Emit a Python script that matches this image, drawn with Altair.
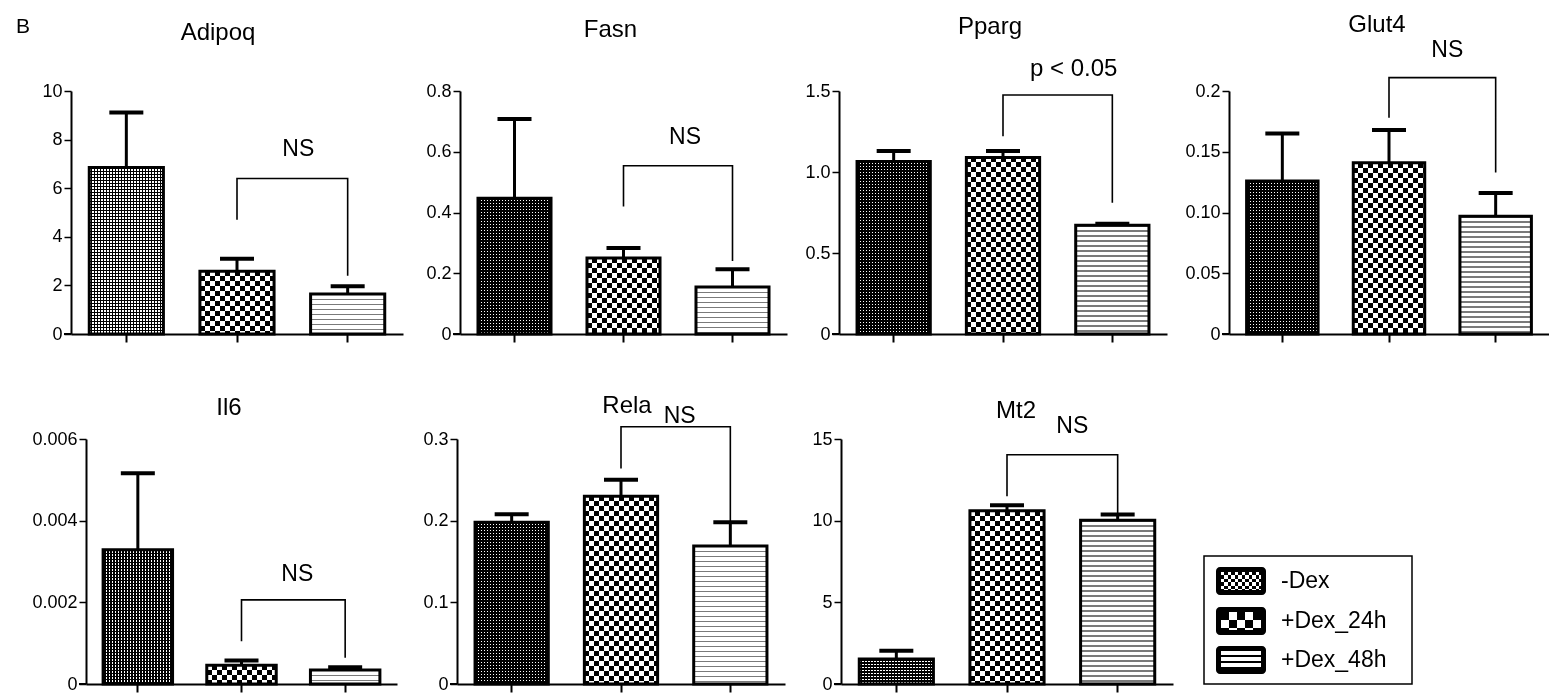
import json
import altair as alt
import pandas as pd

FONT = "Liberation Sans"

# ---------------- data ----------------
genes = ["Adipoq", "Fasn", "Pparg", "Glut4", "Il6", "Rela", "Mt2"]
groups = ["-Dex", "+Dex_24h", "+Dex_48h"]

adipoq_mean = [6.85, 2.58, 1.65]
adipoq_sem = [2.27, 0.52, 0.32]
fasn_mean = [0.447, 0.250, 0.155]
fasn_sem = [0.261, 0.033, 0.058]
pparg_mean = [1.065, 1.090, 0.672]
pparg_sem = [0.065, 0.040, 0.008]
glut4_mean = [0.126, 0.141, 0.097]
glut4_sem = [0.039, 0.027, 0.019]
il6_mean = [0.00329, 0.00046, 0.000345]
il6_sem = [0.00187, 0.000115, 0.000065]
rela_mean = [0.198, 0.230, 0.169]
rela_sem = [0.010, 0.020, 0.029]
mt2_mean = [1.53, 10.60, 10.02]
mt2_sem = [0.51, 0.34, 0.35]

y_max = [10, 0.8, 1.5, 0.2, 0.006, 0.3, 15]
y_ticks = [
    [0, 2, 4, 6, 8, 10],
    [0, 0.2, 0.4, 0.6, 0.8],
    [0, 0.5, 1.0, 1.5],
    [0, 0.05, 0.1, 0.15, 0.2],
    [0, 0.002, 0.004, 0.006],
    [0, 0.1, 0.2, 0.3],
    [0, 5, 10, 15],
]
y_tick_labels = [
    ["0", "2", "4", "6", "8", "10"],
    ["0", "0.2", "0.4", "0.6", "0.8"],
    ["0", "0.5", "1.0", "1.5"],
    ["0", "0.05", "0.10", "0.15", "0.2"],
    ["0", "0.002", "0.004", "0.006"],
    ["0", "0.1", "0.2", "0.3"],
    ["0", "5", "10", "15"],
]

# significance bracket between +Dex_24h and +Dex_48h
bracket_top = [6.4, 0.554, 1.475, 0.211, 0.00206, 0.315, 14.04]
bracket_left_end = [4.7, 0.42, 1.22, 0.178, 0.00105, 0.264, 11.49]
bracket_right_end = [2.4, 0.24, 0.81, 0.133, 0.00064, 0.198, 10.37]
annot_text = ["NS", "NS", "p < 0.05", "NS", "NS", "NS", "NS"]
annot_y = [7.6, 0.649, 1.635, 0.234, 0.0027, 0.328, 15.8]

means = [adipoq_mean, fasn_mean, pparg_mean, glut4_mean, il6_mean, rela_mean, mt2_mean]
sems = [adipoq_sem, fasn_sem, pparg_sem, glut4_sem, il6_sem, rela_sem, mt2_sem]

# ---------------- layout / style ----------------
PANEL_W = [332, 327, 328, 320, 326, 328, 332]
PANEL_H = [243, 243, 243, 243, 245, 245, 245]
X_START = [0, 0, 0, 0, 15, 0, 0]        # left inset of the plot (axis moved right)
AXIS_EXT = [58, 47, 42, 52, 73, 50, 46]
TITLE_OFFSET = [37, 40, 18, 2, 10, -13, -8]
TITLE_DX = [-19, -13, -13, -12, -5, 6, 9]
ANNOT_DX = [6, 7, 16, 5, 4, 4, 10]
ANNOT_SIZE = [23, 23, 24, 23, 23, 23, 23]
PAD_IN, PAD_OUT = 0.33, 0.165
CLEAR = "rgba(255,255,255,0)"


def stripes(period_frac, on_frac, on, off, along):
    stops = []
    k = 0
    while k * period_frac < 1 - 1e-9:
        a = k * period_frac
        b = min(1.0, a + on_frac * period_frac)
        c = min(1.0, (k + 1) * period_frac)
        stops += [(a, on), (b, on), (b, off), (c, off)]
        k += 1
    gs = [alt.GradientStop(offset=round(o, 5), color=col) for o, col in stops]
    if along == "x":
        return alt.LinearGradient(gradient="linear", stops=gs, x1=0, x2=1, y1=0, y2=0)
    return alt.LinearGradient(gradient="linear", stops=gs, x1=0, x2=0, y1=0, y2=1)


def pattern_fills(kind, wpx, hpx, fine=3.0, coarse=10.0, line=5.0):
    hpx = max(hpx, 1.0)
    if kind == 0:  # fine dotted checker
        return [
            (stripes(fine / wpx, 0.45, "#ffffff", "#000000", "x"), None),
            (stripes(fine / hpx, 0.55, "#000000", CLEAR, "y"), None),
        ]
    if kind == 1:  # coarse checkerboard
        return [
            (stripes(coarse / wpx, 0.5, "#000000", "#ffffff", "x"), None),
            (stripes(coarse / hpx, 0.5, "#ffffff", CLEAR, "y"), "difference"),
        ]
    return [(stripes(line / hpx, 0.3, "#7a7a7a", "#ffffff", "y"), None)]


def gene_panel(i):
    w, h, x0 = PANEL_W[i], PANEL_H[i], X_START[i]
    df = pd.DataFrame({"group": groups, "mean": means[i], "sem": sems[i]})
    step = (w - x0) / (3 - PAD_IN + 2 * PAD_OUT)
    bw = step * (1 - PAD_IN)
    tv, tl = y_ticks[i], y_tick_labels[i]
    label_expr = f"{json.dumps(tl)}[round(datum.value / {tv[1]})]"
    x_axis = alt.Axis(title=None, labels=False, ticks=True, tickSize=8, tickWidth=2,
                      tickColor="black", domainColor="black", domainWidth=2, grid=False)
    y_kw = dict(title=None, values=tv, labelExpr=label_expr, labelFont=FONT,
                labelFontSize=18, labelColor="black", labelPadding=2,
                labelFlush=False, labelOverlap=False, tickSize=7, tickWidth=1.5,
                tickColor="black", domainColor="black", domainWidth=2, grid=False,
                minExtent=AXIS_EXT[i])
    if x0:
        y_kw["offset"] = -x0
    y_axis = alt.Axis(**y_kw)
    if x0:
        xs = alt.Scale(domain=groups, paddingInner=PAD_IN, paddingOuter=PAD_OUT, range=[x0, w])
    else:
        xs = alt.Scale(domain=groups, paddingInner=PAD_IN, paddingOuter=PAD_OUT)
    ys = alt.Scale(domain=[0, y_max[i]], nice=False, zero=True)
    X = alt.X("group:N", scale=xs, axis=x_axis, sort=groups)

    def Y(field):
        return alt.Y(f"{field}:Q", scale=ys, axis=y_axis)

    base = alt.Chart(df)
    layers = []
    for j, g in enumerate(groups):
        hpx = means[i][j] / y_max[i] * h
        for fill, blend in pattern_fills(j, bw, hpx):
            kw = dict(fill=fill, strokeWidth=0)
            if blend:
                kw["blend"] = blend
            layers.append(base.transform_filter(alt.datum.group == g)
                          .mark_bar(**kw).encode(x=X, y=Y("mean")))
    layers.append(base.mark_bar(fillOpacity=0, stroke="black", strokeWidth=3)
                  .encode(x=X, y=Y("mean")))
    err = base.transform_calculate(top="datum.mean + datum.sem")
    layers.append(err.mark_rule(color="black", strokeWidth=3, opacity=1)
                  .encode(x=X, y=Y("mean"), y2="top:Q"))
    layers.append(err.mark_tick(color="black", thickness=4, size=34, opacity=1)
                  .encode(x=X, y=Y("top")))
    br = pd.DataFrame({
        "group": [groups[1], groups[1], groups[2], groups[2]],
        "value": [bracket_left_end[i], bracket_top[i], bracket_top[i], bracket_right_end[i]],
        "order": [0, 1, 2, 3],
    })
    layers.append(alt.Chart(br).mark_line(color="black", strokeWidth=1.6)
                  .encode(x=X, y=Y("value"), order="order:Q"))
    ann = pd.DataFrame({"group": [groups[1]], "value": [annot_y[i]], "label": [annot_text[i]]})
    layers.append(alt.Chart(ann).mark_text(font=FONT, fontSize=ANNOT_SIZE[i], color="black",
                                           align="center", baseline="middle",
                                           dx=step / 2 + ANNOT_DX[i])
                  .encode(x=X, y=Y("value"), text="label:N"))
    # short extension of the baseline to the left of the y axis
    layers.append(alt.Chart(pd.DataFrame({"group": ["axis"]}))
                  .mark_rule(color="black", strokeWidth=2)
                  .encode(x=alt.value(x0 - 7), x2=alt.value(x0), y=alt.value(h)))
    title = alt.TitleParams(text=genes[i], font=FONT, fontSize=24, fontWeight="normal",
                            color="black", anchor="middle", frame="group",
                            offset=TITLE_OFFSET[i], dx=TITLE_DX[i])
    return alt.layer(*layers).properties(width=w, height=h, title=title)


# ---------------- custom legend ----------------
LEG_X0, LEG_W, LEG_TOP, LEG_BOTTOM = 21, 208, 117, 245
LEG_ROWS = [142, 182, 221]


def legend_fills(kind):
    iw, ih = 40.0, 18.0
    if kind == 0:
        return [
            (stripes(7 / iw, 0.5, "#000000", "#ffffff", "x"), None),
            (stripes(7 / ih, 0.5, "#ffffff", CLEAR, "y"), "difference"),
        ]
    if kind == 1:
        return [
            (stripes(16 / iw, 0.5, "#ffffff", "#000000", "x"), None),
            (stripes(16 / ih, 0.5, "#ffffff", CLEAR, "y"), "difference"),
        ]
    return [(stripes(1 / 3, 0.72, "#ffffff", "#000000", "y"), None)]


leg_df = pd.DataFrame({"group": groups})
leg_layers = [
    alt.Chart(pd.DataFrame({"group": ["box"]})).mark_rect(fillOpacity=0, stroke="black", strokeWidth=1.5)
    .encode(x=alt.value(LEG_X0), x2=alt.value(LEG_X0 + LEG_W),
            y=alt.value(LEG_TOP), y2=alt.value(LEG_BOTTOM))
]
for j, g in enumerate(groups):
    cy = LEG_ROWS[j]
    sw = alt.Chart(leg_df).transform_filter(alt.datum.group == g)
    leg_layers.append(sw.mark_rect(fill="black", cornerRadius=4)
                      .encode(x=alt.value(LEG_X0 + 12), x2=alt.value(LEG_X0 + 62),
                              y=alt.value(cy - 14), y2=alt.value(cy + 14)))
    for fill, blend in legend_fills(j):
        kw = dict(fill=fill, strokeWidth=0)
        if blend:
            kw["blend"] = blend
        leg_layers.append(sw.mark_rect(**kw)
                          .encode(x=alt.value(LEG_X0 + 17), x2=alt.value(LEG_X0 + 57),
                                  y=alt.value(cy - 9), y2=alt.value(cy + 9)))
    leg_layers.append(sw.mark_text(font=FONT, fontSize=23, color="black", align="left",
                                   baseline="middle")
                      .encode(x=alt.value(LEG_X0 + 77), y=alt.value(cy), text="group:N"))
legend = alt.layer(*leg_layers).properties(width=LEG_X0 + LEG_W + 2, height=245)

row1 = alt.hconcat(*[gene_panel(i) for i in range(4)], spacing=10)
row2 = alt.hconcat(*[gene_panel(i) for i in range(4, 7)], legend, spacing=10)

chart = alt.vconcat(row1, row2, spacing=51).properties(
    title=alt.TitleParams(text="B", anchor="start", font=FONT, fontSize=21,
                          fontWeight="normal", color="black", dx=3, dy=24, offset=0),
    padding={"left": 5, "top": 4, "right": 0, "bottom": 2},
).configure(font=FONT).configure_view(strokeWidth=0, stroke="transparent")

chart.save("out.html", embed_options={"renderer": "svg", "actions": False})
